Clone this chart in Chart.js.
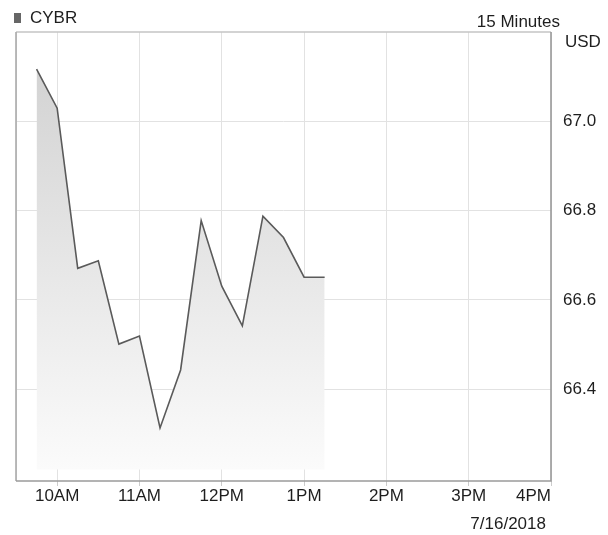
<!DOCTYPE html>
<html>
<head>
<meta charset="utf-8">
<script src="https://cdn.jsdelivr.net/npm/chart.js@4/dist/chart.umd.min.js"></script>
<style>
  html, body { margin: 0; padding: 0; background: #fff; }
  #wrap { position: relative; width: 608px; height: 535px; font-family: "Liberation Sans", Arial, sans-serif; color: #1e1e1e; }
  #c { position: absolute; left: 0; top: 0; }
  .t { position: absolute; font-size: 17px; line-height: 17px; white-space: nowrap; }
  #sq { position: absolute; left: 14px; top: 13px; width: 7px; height: 10px; background: #666; }
</style>
</head>
<body>
<div id="wrap">
  <canvas id="c" width="608" height="535"></canvas>
  <div id="sq"></div>
  <div class="t" id="sym" style="left:30px; top:9px;">CYBR</div>
  <div class="t" id="iv" style="right:48px; top:13px;">15 Minutes</div>
  <div class="t" id="cur" style="left:565px; top:33px;">USD</div>
  <div class="t" id="dt" style="right:62px; top:515px;">7/16/2018</div>
</div>
<script>
// ---- data ----
const times = ["09:45","10:00","10:15","10:30","10:45","11:00","11:15","11:30","11:45","12:00","12:15","12:30","12:45","13:00","13:15"];
const prices = [67.118, 67.030, 66.671, 66.688, 66.501, 66.519, 66.313, 66.443, 66.778, 66.631, 66.542, 66.788, 66.740, 66.651, 66.651];
const xTickTimes = ["09:30","10:00","11:00","12:00","13:00","14:00","15:00","16:00"];
const xTickLabels = ["","10AM","11AM","12PM","1PM","2PM","3PM","4PM"];
const yTicks = [66.4, 66.6, 66.8, 67.0];
const sessionStart = "09:30";
const sessionEnd = "16:00";
const yMin = 66.194, yMax = 67.201, fillBase = 66.22;

const toMin = s => { const [h, m] = s.split(":").map(Number); return h * 60 + m; };
const points = times.map((t, i) => ({ x: toMin(t), y: prices[i] }));
const xTickVals = xTickTimes.map(toMin);
const FONT = { family: '"Liberation Sans", Arial, sans-serif', size: 17 };

const borderPlugin = {
  id: 'frame',
  afterDatasetsDraw(chart) {
    const { ctx, chartArea: a } = chart;
    ctx.save();
    ctx.lineWidth = 1.6;
    ctx.strokeStyle = '#c4c4c4';
    ctx.beginPath(); ctx.moveTo(a.left, a.top); ctx.lineTo(a.right, a.top); ctx.stroke();
    ctx.strokeStyle = '#aaaaaa';
    ctx.beginPath(); ctx.moveTo(a.left, a.top); ctx.lineTo(a.left, a.bottom); ctx.stroke();
    ctx.strokeStyle = '#9a9a9a';
    ctx.beginPath(); ctx.moveTo(a.left, a.bottom); ctx.lineTo(a.right, a.bottom); ctx.lineTo(a.right, a.top); ctx.stroke();
    ctx.restore();
  }
};

new Chart(document.getElementById('c'), {
  type: 'line',
  data: {
    datasets: [{
      data: points,
      borderColor: '#5a5a5a',
      borderWidth: 1.6,
      pointRadius: 0,
      tension: 0,
      fill: { value: fillBase },
      backgroundColor: (ctx) => {
        const ch = ctx.chart;
        const { ctx: c, chartArea, scales } = ch;
        if (!chartArea) return '#e0e0e0';
        const y0 = scales.y.getPixelForValue(Math.max(...prices));
        const y1 = scales.y.getPixelForValue(fillBase);
        const g = c.createLinearGradient(0, y0, 0, y1);
        g.addColorStop(0, '#d3d3d3');
        g.addColorStop(1, '#fbfbfb');
        return g;
      }
    }]
  },
  options: {
    responsive: false,
    animation: false,
    layout: { padding: { left: 16, top: 32, right: 0, bottom: 0 } },
    plugins: { legend: { display: false }, tooltip: { enabled: false } },
    scales: {
      x: {
        type: 'linear',
        min: toMin(sessionStart),
        max: toMin(sessionEnd),
        afterBuildTicks: s => { s.ticks = xTickVals.map(v => ({ value: v })); },
        afterFit: s => { s.height = 54; },
        ticks: {
          autoSkip: false,
          maxRotation: 0,
          align: 'inner',
          padding: 0,
          color: '#1e1e1e',
          font: FONT,
          callback: (v, i) => xTickLabels[i]
        },
        grid: {
          color: '#e2e2e2',
          lineWidth: 1,
          tickLength: 5,
          tickColor: (ctx) => ctx.index === 0 ? 'rgba(0,0,0,0)' : '#cccccc'
        },
        border: { display: false }
      },
      y: {
        position: 'right',
        min: yMin,
        max: yMax,
        afterBuildTicks: s => { s.ticks = yTicks.map(v => ({ value: v })); },
        afterFit: s => { s.width = 57; },
        ticks: {
          padding: 12,
          color: '#1e1e1e',
          font: FONT,
          callback: v => Number(v).toFixed(1)
        },
        grid: { color: '#e2e2e2', lineWidth: 1, drawTicks: false },
        border: { display: false }
      }
    }
  },
  plugins: [borderPlugin]
});
</script>
</body>
</html>
